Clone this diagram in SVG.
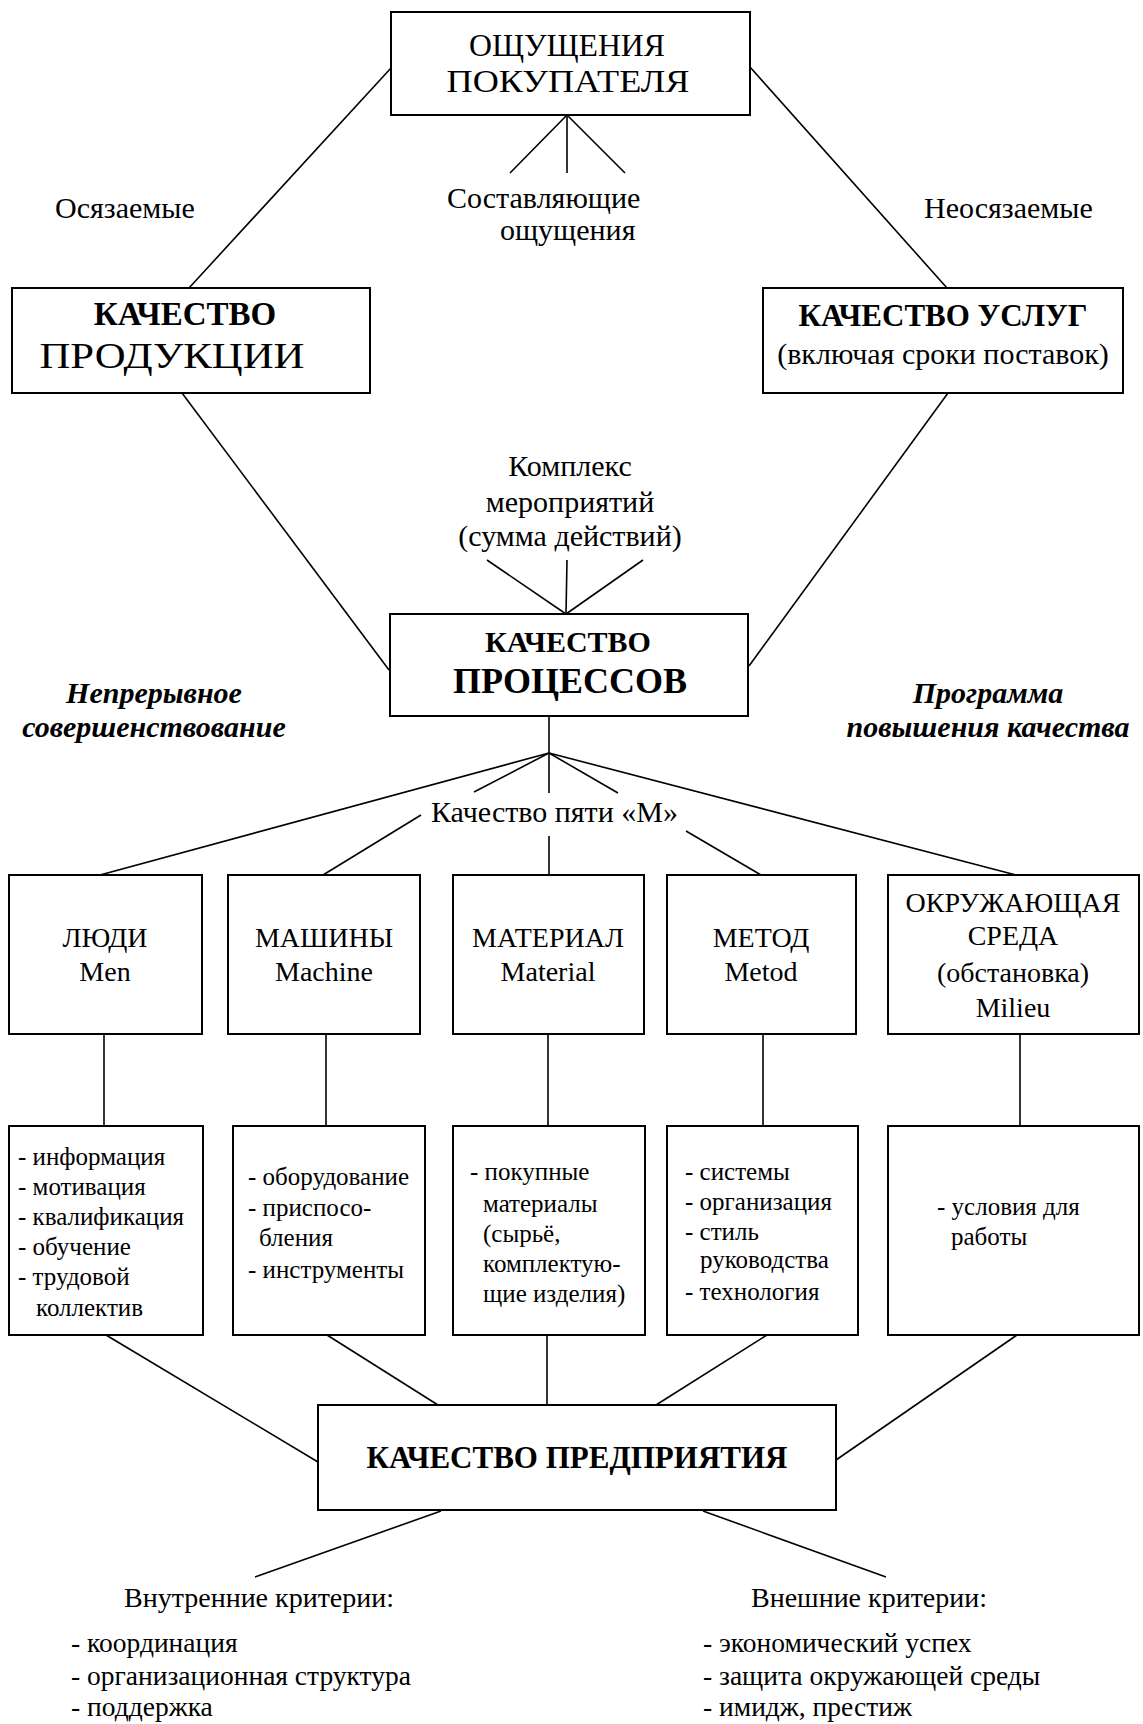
<svg xmlns="http://www.w3.org/2000/svg" width="1143" height="1724" viewBox="0 0 1143 1724">
<style>
text{font-family:"Liberation Serif","Times New Roman",serif;fill:#000}
.box{fill:#fff;stroke:#000;stroke-width:2}
.c{stroke:#000;stroke-width:1.6;fill:none}
.t30{font-size:30px}
.t28{font-size:28px}
.t25{font-size:25px}
.t27{font-size:27.5px}
.b{font-weight:bold}
.it{font-style:italic;font-weight:bold;font-size:30px}
.m{text-anchor:middle}
</style>
<rect width="1143" height="1724" fill="#fff"/>
<g id="connectors">
<line class="c" x1="391" y1="68" x2="189" y2="288"/>
<line class="c" x1="750" y1="67" x2="947" y2="288"/>
<line class="c" x1="567" y1="115" x2="510" y2="173"/>
<line class="c" x1="567" y1="115" x2="567" y2="173"/>
<line class="c" x1="567" y1="115" x2="625" y2="173"/>
<line class="c" x1="182" y1="393" x2="389" y2="670"/>
<line class="c" x1="948" y1="393" x2="749" y2="666"/>
<line class="c" x1="487" y1="560" x2="566" y2="614"/>
<line class="c" x1="567" y1="560" x2="566" y2="614"/>
<line class="c" x1="643" y1="560" x2="566" y2="614"/>
<line class="c" x1="549" y1="716" x2="549" y2="753"/>
<line class="c" x1="549" y1="753" x2="100" y2="875"/>
<line class="c" x1="549" y1="753" x2="474" y2="792"/>
<line class="c" x1="421" y1="815" x2="323" y2="875"/>
<line class="c" x1="549" y1="753" x2="549" y2="793"/>
<line class="c" x1="549" y1="836" x2="549" y2="875"/>
<line class="c" x1="549" y1="753" x2="618" y2="793"/>
<line class="c" x1="686" y1="831" x2="761" y2="875"/>
<line class="c" x1="549" y1="753" x2="1016" y2="875"/>
<line class="c" x1="104" y1="1034" x2="104" y2="1126"/>
<line class="c" x1="326" y1="1034" x2="326" y2="1126"/>
<line class="c" x1="548" y1="1034" x2="548" y2="1126"/>
<line class="c" x1="763" y1="1034" x2="763" y2="1126"/>
<line class="c" x1="1020" y1="1034" x2="1020" y2="1126"/>
<line class="c" x1="106" y1="1335" x2="318" y2="1462"/>
<line class="c" x1="327" y1="1335" x2="438" y2="1405"/>
<line class="c" x1="547" y1="1335" x2="547" y2="1405"/>
<line class="c" x1="767" y1="1335" x2="656" y2="1405"/>
<line class="c" x1="1017" y1="1335" x2="836" y2="1460"/>
<line class="c" x1="441" y1="1511" x2="255" y2="1577"/>
<line class="c" x1="703" y1="1511" x2="886" y2="1577"/>
</g>
<g id="buyer">
<rect class="box" x="391" y="12" width="359" height="103"/>
<text class="m" x="567" y="56" font-size="32" textLength="196" lengthAdjust="spacingAndGlyphs">ОЩУЩЕНИЯ</text>
<text class="m" x="568" y="92" font-size="32" textLength="243" lengthAdjust="spacingAndGlyphs">ПОКУПАТЕЛЯ</text>
</g>
<g id="lbl-components">
<text class="t30" x="447" y="208">Составляющие</text>
<text class="t30" x="500" y="240">ощущения</text>
</g>
<text id="lbl-tangible" class="t30" x="55" y="218">Осязаемые</text>
<text id="lbl-intangible" class="t30" x="924" y="218">Неосязаемые</text>
<g id="product">
<rect class="box" x="12" y="288" width="358" height="105"/>
<text class="m b" x="185" y="325" font-size="33">КАЧЕСТВО</text>
<text class="m" x="172" y="368" font-size="35" textLength="265" lengthAdjust="spacingAndGlyphs">ПРОДУКЦИИ</text>
</g>
<g id="services">
<rect class="box" x="763" y="288" width="360" height="105"/>
<text class="m b" x="943" y="326" font-size="31">КАЧЕСТВО УСЛУГ</text>
<text class="m t30" x="943" y="364">(включая сроки поставок)</text>
</g>
<g id="lbl-complex">
<text class="m t30" x="570" y="476">Комплекс</text>
<text class="m t30" x="570" y="512">мероприятий</text>
<text class="m t30" x="570" y="546">(сумма действий)</text>
</g>
<g id="processes">
<rect class="box" x="390" y="614" width="358" height="102"/>
<text class="m b" x="568" y="652" font-size="30">КАЧЕСТВО</text>
<text class="m b" x="570" y="693" font-size="36">ПРОЦЕССОВ</text>
</g>
<g id="lbl-continuous">
<text class="m it" x="154" y="703">Непрерывное</text>
<text class="m it" x="154" y="737">совершенствование</text>
</g>
<g id="lbl-program">
<text class="m it" x="988" y="703">Программа</text>
<text class="m it" x="988" y="737">повышения качества</text>
</g>
<text id="lbl-5m" class="t30" x="431" y="822">Качество пяти «М»</text>
<g id="men">
<rect class="box" x="9" y="875" width="193" height="159"/>
<text class="m t28" x="105" y="947">ЛЮДИ</text>
<text class="m t28" x="105" y="981">Men</text>
</g>
<g id="machine">
<rect class="box" x="228" y="875" width="192" height="159"/>
<text class="m t28" x="324" y="947">МАШИНЫ</text>
<text class="m t28" x="324" y="981">Machine</text>
</g>
<g id="material">
<rect class="box" x="453" y="875" width="191" height="159"/>
<text class="m t28" x="548" y="947">МАТЕРИАЛ</text>
<text class="m t28" x="548" y="981">Material</text>
</g>
<g id="method">
<rect class="box" x="667" y="875" width="189" height="159"/>
<text class="m t28" x="761" y="947">МЕТОД</text>
<text class="m t28" x="761" y="981">Metod</text>
</g>
<g id="milieu">
<rect class="box" x="888" y="875" width="251" height="159"/>
<text class="m t28" x="1013" y="912">ОКРУЖАЮЩАЯ</text>
<text class="m t28" x="1013" y="945">СРЕДА</text>
<text class="m t28" x="1013" y="982">(обстановка)</text>
<text class="m t28" x="1013" y="1017">Milieu</text>
</g>
<g id="men-details">
<rect class="box" x="9" y="1126" width="194" height="209"/>
<text class="t25" x="18" y="1165">- информация</text>
<text class="t25" x="18" y="1195">- мотивация</text>
<text class="t25" x="18" y="1225">- квалификация</text>
<text class="t25" x="18" y="1255">- обучение</text>
<text class="t25" x="18" y="1285">- трудовой</text>
<text class="t25" x="36" y="1316">коллектив</text>
</g>
<g id="machine-details">
<rect class="box" x="233" y="1126" width="192" height="209"/>
<text class="t25" x="248" y="1185">- оборудование</text>
<text class="t25" x="248" y="1216">- приспосо-</text>
<text class="t25" x="259" y="1246">бления</text>
<text class="t25" x="248" y="1278">- инструменты</text>
</g>
<g id="material-details">
<rect class="box" x="453" y="1126" width="192" height="209"/>
<text class="t25" x="470" y="1180">- покупные</text>
<text class="t25" x="483" y="1212">материалы</text>
<text class="t25" x="483" y="1242">(сырьё,</text>
<text class="t25" x="483" y="1272">комплектую-</text>
<text class="t25" x="483" y="1302">щие изделия)</text>
</g>
<g id="method-details">
<rect class="box" x="667" y="1126" width="191" height="209"/>
<text class="t25" x="685" y="1180">- системы</text>
<text class="t25" x="685" y="1210">- организация</text>
<text class="t25" x="685" y="1240">- стиль</text>
<text class="t25" x="700" y="1268">руководства</text>
<text class="t25" x="685" y="1300">- технология</text>
</g>
<g id="milieu-details">
<rect class="box" x="888" y="1126" width="251" height="209"/>
<text class="t25" x="937" y="1215">- условия для</text>
<text class="t25" x="951" y="1245">работы</text>
</g>
<g id="enterprise">
<rect class="box" x="318" y="1405" width="518" height="105"/>
<text class="m b" x="577" y="1468" font-size="31">КАЧЕСТВО ПРЕДПРИЯТИЯ</text>
</g>
<g id="internal">
<text class="t28" x="124" y="1607">Внутренние критерии:</text>
<text class="t27" x="71" y="1652">- координация</text>
<text class="t27" x="71" y="1685">- организационная структура</text>
<text class="t27" x="71" y="1716">- поддержка</text>
</g>
<g id="external">
<text class="t28" x="751" y="1607">Внешние критерии:</text>
<text class="t27" x="703" y="1652">- экономический успех</text>
<text class="t27" x="703" y="1685">- защита окружающей среды</text>
<text class="t27" x="703" y="1716">- имидж, престиж</text>
</g>
</svg>
